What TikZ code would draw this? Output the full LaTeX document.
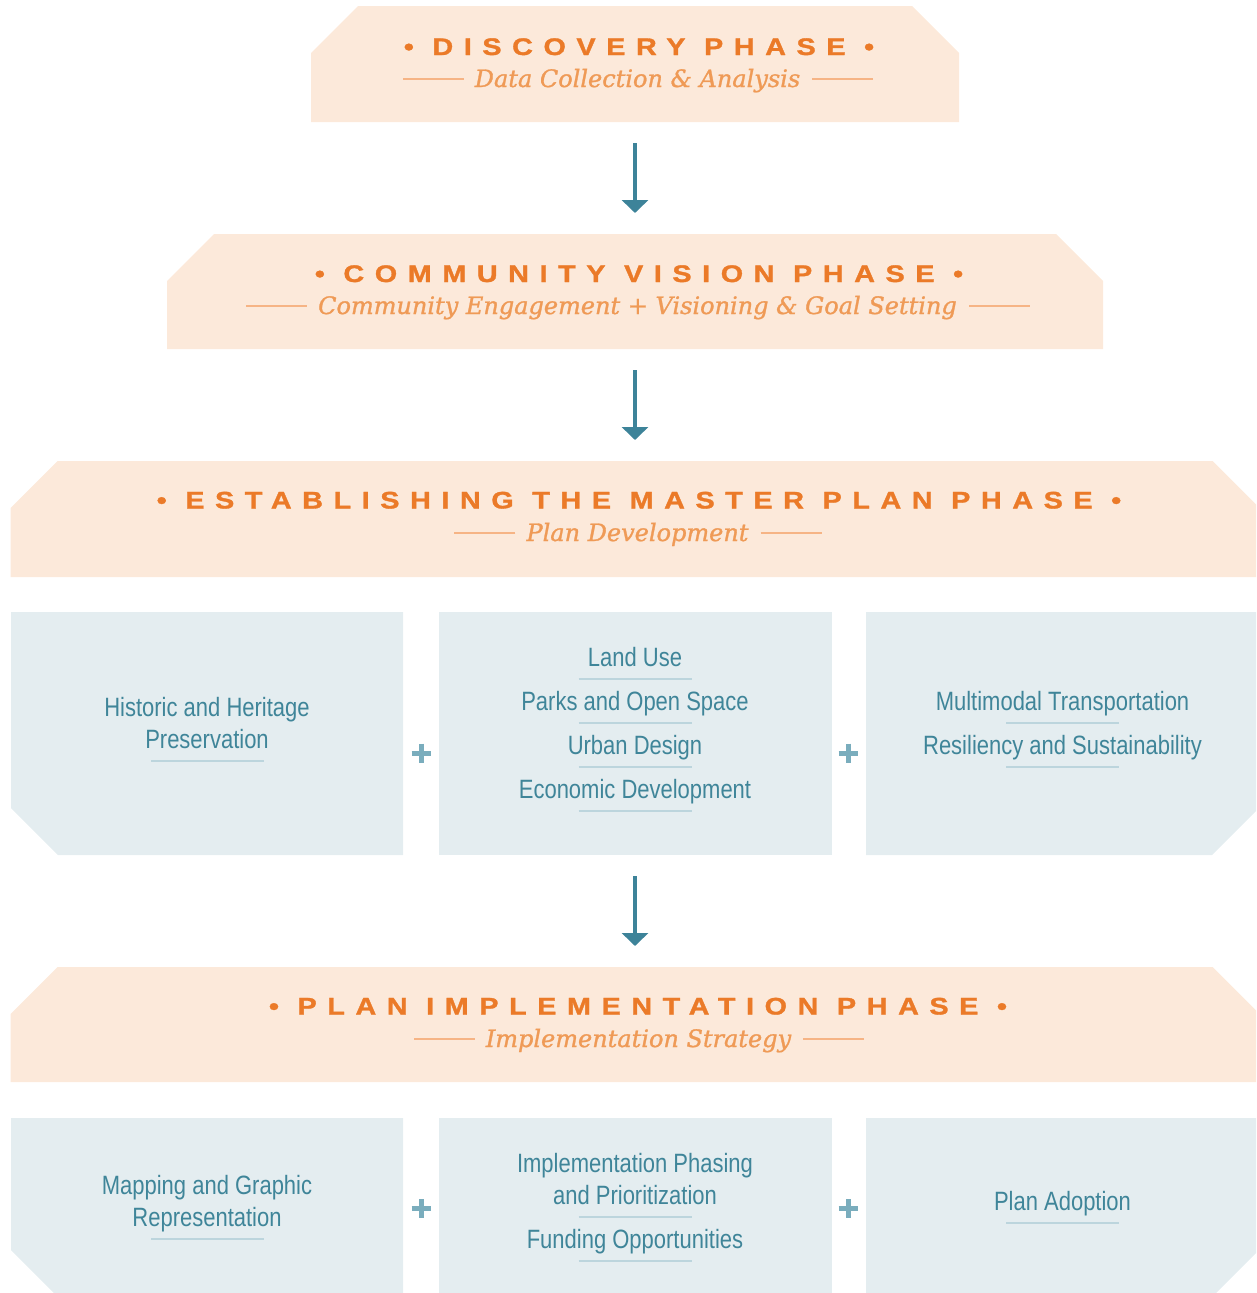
\documentclass[tikz,border=0pt]{standalone}
\usepackage{fontspec}
\setmainfont{Liberation Sans}
\newfontfamily\titlefont{Liberation Sans Bold}[FakeStretch=1.2,LetterSpace=44,FakeBold=1.3]
\newfontfamily\subfont{DejaVu Serif Italic}[FakeStretch=1.0,FakeBold=1.2]
\newfontfamily\itemfont{Liberation Sans}[FakeStretch=0.83]
\usetikzlibrary{arrows.meta}
\definecolor{peach}{HTML}{FCE9DA}
\definecolor{paleblue}{HTML}{E4EDF0}
\definecolor{orangeT}{HTML}{EB7A28}
\definecolor{orangeS}{HTML}{EF9A56}
\definecolor{ruleO}{HTML}{F6B485}
\definecolor{tealT}{HTML}{3F8599}
\definecolor{arrowC}{HTML}{3D8399}
\definecolor{ruleB}{HTML}{BCD5DD}
\definecolor{plusC}{HTML}{7AADBD}
\newcommand\chamtop[2]{%
  \fill[#2] ([xshift=47pt]#1.north west) -- ([xshift=-47pt]#1.north east) -- ([yshift=-47pt]#1.north east)
    -- (#1.south east) -- (#1.south west) -- ([yshift=-47pt]#1.north west) -- cycle;}
\newcommand\chambl[2]{%
  \fill[#2] (#1.north west) -- (#1.north east) -- (#1.south east) -- ([xshift=47pt]#1.south west)
    -- ([yshift=47pt]#1.south west) -- cycle;}
\newcommand\chambr[2]{%
  \fill[#2] (#1.north west) -- (#1.north east) -- ([yshift=47pt]#1.south east) -- ([xshift=-47pt]#1.south east)
    -- (#1.south west) -- cycle;}
\begin{document}
\begin{tikzpicture}[x=1pt,y=-1pt,
  phasebox/.style={inner sep=0pt, outer sep=0pt, minimum height=116pt},
  topicbox/.style={inner sep=0pt, outer sep=0pt},
  titletext/.style={anchor=base, inner sep=0pt, text=orangeT, font=\titlefont\fontsize{24}{24}\selectfont},
  subtext/.style={anchor=base, inner sep=0pt, text=orangeS, font=\subfont\fontsize{24}{24}\selectfont},
  itemtext/.style={anchor=base, inner sep=0pt, text=tealT, font=\itemfont\fontsize{26.5}{26.5}\selectfont},
  itemrule/.style={draw=ruleB, line width=2.7pt},
  subrule/.style={draw=ruleO, line width=2pt},
  flow/.style={draw=arrowC, line width=4pt, -{Triangle[width=26pt,length=13pt]}, shorten <=21pt, shorten >=21pt},
  plussign/.style={draw=plusC, line width=5pt}]
\useasboundingbox (0,0) rectangle (1256,1293);
\clip (0,0) rectangle (1256,1293);

% phase boxes
\node[phasebox, minimum width=648pt] (disc) at (635,64) {};
\node[phasebox, minimum width=936pt, minimum height=115pt] (comm) at (635,291.5) {};
\node[phasebox, minimum width=1249pt] (estab) at (635,519) {};
\node[phasebox, minimum width=1249pt, minimum height=115pt] (impl) at (635,1024.5) {};
\chamtop{disc}{peach}
\chamtop{comm}{peach}
\chamtop{estab}{peach}
\chamtop{impl}{peach}

% topic boxes row 1
\node[topicbox, minimum width=392pt, minimum height=243pt] (hist) at (207,733.5) {};
\node[topicbox, minimum width=393pt, minimum height=243pt] (core) at (635,733.5) {};
\node[topicbox, minimum width=393pt, minimum height=243pt] (mobil) at (1062.5,733.5) {};
\chambl{hist}{paleblue}
\fill[paleblue] (core.north west) rectangle (core.south east);
\chambr{mobil}{paleblue}

% topic boxes row 2
\node[topicbox, minimum width=392pt, minimum height=179pt] (mapg) at (207,1207.5) {};
\node[topicbox, minimum width=393pt, minimum height=179pt] (phas) at (635,1207.5) {};
\node[topicbox, minimum width=393pt, minimum height=179pt] (adop) at (1062.5,1207.5) {};
\chambl{mapg}{paleblue}
\fill[paleblue] (phas.north west) rectangle (phas.south east);
\chambr{adop}{paleblue}

% titles
\node[titletext] (discT) at (639,55) {• DISCOVERY PHASE •};
\node[subtext] (discS) at (637.5,87) {Data Collection \& Analysis};
\node[titletext] (commT) at (639,282) {• COMMUNITY VISION PHASE •};
\node[subtext] (commS) at (637.5,314) {Community Engagement + Visioning \& Goal Setting};
\node[titletext] (estabT) at (639,508.5) {• ESTABLISHING THE MASTER PLAN PHASE •};
\node[subtext] (estabS) at (637.5,541) {Plan Development};
\node[titletext] (implT) at (638,1014.5) {• PLAN IMPLEMENTATION PHASE •};
\node[subtext] (implS) at (638.5,1047) {Implementation Strategy};
\foreach \s in {discS,commS,estabS,implS}{
  \draw[subrule] ([xshift=-11pt,yshift=8pt]\s.base west) -- ++(-61,0);
  \draw[subrule] ([xshift=12pt,yshift=8pt]\s.base east) -- ++(61,0);
}

% row 1 texts
\node[itemtext] (h1) at (207,716) {Historic and Heritage};
\node[itemtext] (h2) at (207,748) {Preservation};
\draw[itemrule] (151,761) -- (264,761);
\node[itemtext] (c1) at (635,666) {Land Use};
\draw[itemrule] (578.5,679) -- (691.5,679);
\node[itemtext] (c2) at (635,710) {Parks and Open Space};
\draw[itemrule] (578.5,723) -- (691.5,723);
\node[itemtext] (c3) at (635,754) {Urban Design};
\draw[itemrule] (578.5,767) -- (691.5,767);
\node[itemtext] (c4) at (635,798) {Economic Development};
\draw[itemrule] (578.5,811) -- (691.5,811);
\node[itemtext] (m1) at (1062.5,710) {Multimodal Transportation};
\draw[itemrule] (1006,723) -- (1119,723);
\node[itemtext] (m2) at (1062.5,754) {Resiliency and Sustainability};
\draw[itemrule] (1006,767) -- (1119,767);

% row 2 texts
\node[itemtext] (g1) at (207,1194) {Mapping and Graphic};
\node[itemtext] (g2) at (207,1226) {Representation};
\draw[itemrule] (151,1239) -- (264,1239);
\node[itemtext] (p1) at (635,1172) {Implementation Phasing};
\node[itemtext] (p2) at (635,1204) {and Prioritization};
\draw[itemrule] (578.5,1217) -- (691.5,1217);
\node[itemtext] (p3) at (635,1248) {Funding Opportunities};
\draw[itemrule] (578.5,1261) -- (691.5,1261);
\node[itemtext] (a1) at (1062.5,1210) {Plan Adoption};
\draw[itemrule] (1006,1223) -- (1119,1223);

% plus signs
\foreach \px/\py in {421/753, 848/753, 421/1208.5, 848/1208.5}{
  \draw[plussign] (\px-9.5,\py) -- (\px+9.5,\py) (\px,\py-9.5) -- (\px,\py+9.5);
}

% arrows
\draw[flow] (disc.south) -- (comm.north);
\draw[flow] (comm.south) -- (estab.north);
\draw[flow] (core.south) -- (impl.north);
\end{tikzpicture}
\end{document}
